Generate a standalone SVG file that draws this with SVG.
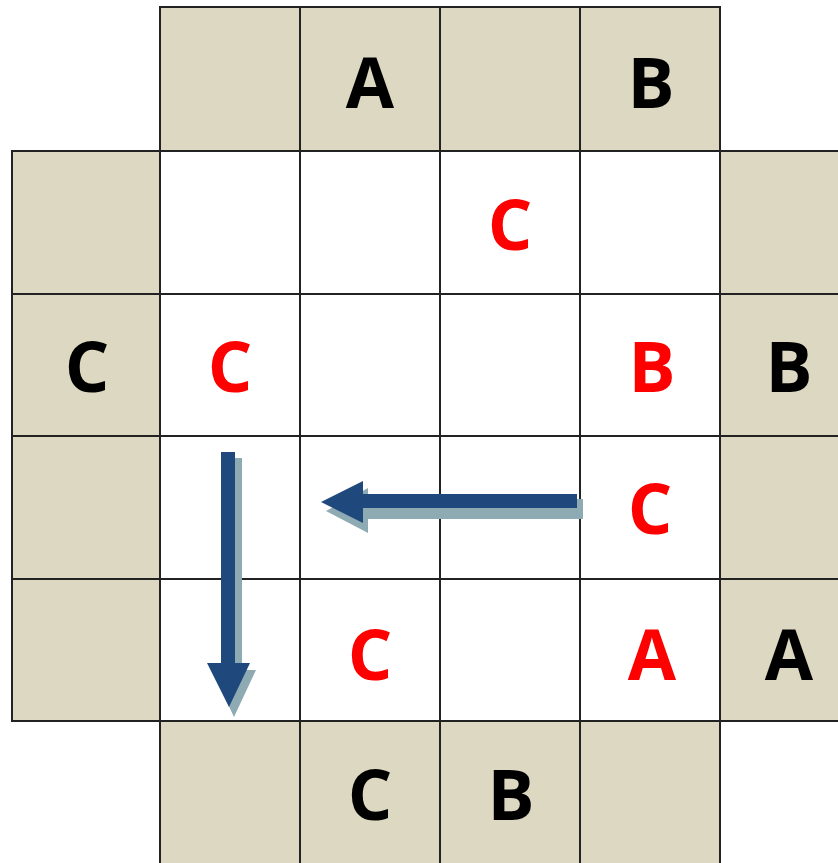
<svg xmlns="http://www.w3.org/2000/svg" width="838" height="863" viewBox="0 0 838 863">
<defs>
<style>
.s{fill:#ddd8c1;stroke:#222;stroke-width:2}
.w{fill:#fff;stroke:#222;stroke-width:2}
.t{font-family:"Open Sans","Liberation Sans",sans-serif;font-weight:bold;font-size:70px;text-anchor:middle}
.k{fill:#000}
.r{fill:#ff0000}
.ar{fill:#1f497d}
.sh{fill:#8eabb4}
</style>
</defs>
<rect width="838" height="863" fill="#fff"/>
<g id="cells">
<rect class="s" x="160" y="7" width="140" height="144"/>
<rect class="s" x="300" y="7" width="140" height="144"/>
<rect class="s" x="440" y="7" width="140" height="144"/>
<rect class="s" x="580" y="7" width="140" height="144"/>
<rect class="s" x="12" y="151" width="148" height="143"/>
<rect class="s" x="12" y="294" width="148" height="142"/>
<rect class="s" x="12" y="436" width="148" height="143"/>
<rect class="s" x="12" y="579" width="148" height="142"/>
<rect class="s" x="720" y="151" width="130" height="143"/>
<rect class="s" x="720" y="294" width="130" height="142"/>
<rect class="s" x="720" y="436" width="130" height="143"/>
<rect class="s" x="720" y="579" width="130" height="142"/>
<rect class="s" x="160" y="721" width="140" height="150"/>
<rect class="s" x="300" y="721" width="140" height="150"/>
<rect class="s" x="440" y="721" width="140" height="150"/>
<rect class="s" x="580" y="721" width="140" height="150"/>
<rect class="w" x="160" y="151" width="140" height="143"/>
<rect class="w" x="300" y="151" width="140" height="143"/>
<rect class="w" x="440" y="151" width="140" height="143"/>
<rect class="w" x="580" y="151" width="140" height="143"/>
<rect class="w" x="160" y="294" width="140" height="142"/>
<rect class="w" x="300" y="294" width="140" height="142"/>
<rect class="w" x="440" y="294" width="140" height="142"/>
<rect class="w" x="580" y="294" width="140" height="142"/>
<rect class="w" x="160" y="436" width="140" height="143"/>
<rect class="w" x="300" y="436" width="140" height="143"/>
<rect class="w" x="440" y="436" width="140" height="143"/>
<rect class="w" x="580" y="436" width="140" height="143"/>
<rect class="w" x="160" y="579" width="140" height="142"/>
<rect class="w" x="300" y="579" width="140" height="142"/>
<rect class="w" x="440" y="579" width="140" height="142"/>
<rect class="w" x="580" y="579" width="140" height="142"/>
</g>
<g id="labels">
<text class="t k" x="370" y="108">A</text>
<text class="t k" x="651" y="108">B</text>
<text class="t r" x="510" y="250">C</text>
<text class="t k" x="87" y="392">C</text>
<text class="t r" x="230" y="392">C</text>
<text class="t r" x="652" y="392">B</text>
<text class="t k" x="789" y="392">B</text>
<text class="t r" x="650" y="534">C</text>
<text class="t r" x="370" y="680">C</text>
<text class="t r" x="652" y="680">A</text>
<text class="t k" x="789" y="680">A</text>
<text class="t k" x="370" y="820">C</text>
<text class="t k" x="511" y="820">B</text>
</g>
<g id="connectors">
<polygon class="sh" points="583,499 368,499 368,488 326,511 368,533 368,519 583,519"/>
<polygon class="ar" points="577,494 363,494 363,481 321,502 363,523 363,508 577,508"/>
<polygon class="sh" points="228,458 242,458 242,670 256,670 234,717 212,670 228,670"/>
<polygon class="ar" points="221,452 235,452 235,663 250,663 229,707 207,663 221,663"/>
</g>
</svg>
